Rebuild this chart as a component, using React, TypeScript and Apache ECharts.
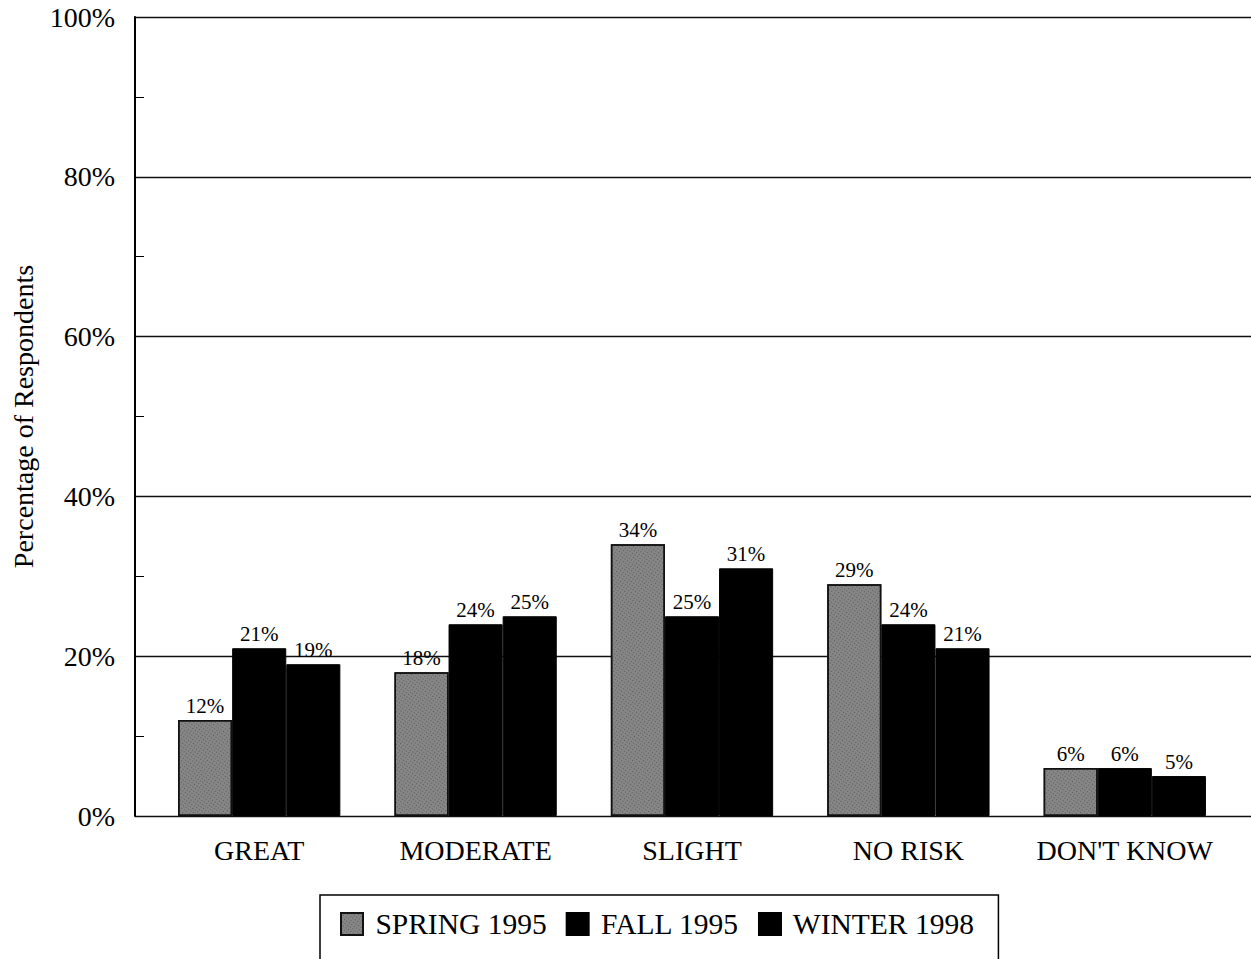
import React, { useEffect, useRef } from "react";
import * as echarts from "echarts";

const categories = ["GREAT", "MODERATE", "SLIGHT", "NO RISK", "DON'T KNOW"];
const spring1995 = [12, 18, 34, 29, 6];
const fall1995 = [21, 24, 25, 24, 6];
const winter1998 = [19, 25, 31, 21, 5];
const seriesNames = ["SPRING 1995", "FALL 1995", "WINTER 1998"];

const FONT = "'Liberation Serif', 'Times New Roman', serif";

export default function App() {
  const ref = useRef<HTMLDivElement>(null);
  useEffect(() => {
    if (!ref.current) return;
    const chart = echarts.init(ref.current, undefined, { renderer: "svg" });
    const label = {
      show: true,
      position: "top",
      distance: 4,
      formatter: "{c}%",
      fontFamily: FONT,
      fontSize: 21,
      color: "#000",
    };
    chart.setOption({
      animation: false,
      backgroundColor: "#fff",
      textStyle: { fontFamily: FONT },
      grid: [
        { left: 135, right: -20, top: 17, bottom: 143 },
        { left: 151, width: 1082, top: 17, bottom: 143 },
      ],
      xAxis: [
        { type: "value", gridIndex: 0, show: false, min: 0, max: 1 },
        {
          type: "category",
          gridIndex: 1,
          data: categories,
          axisLine: { show: false },
          axisTick: { show: false },
          axisLabel: { interval: 0, fontFamily: FONT, fontSize: 28, color: "#000", margin: 20 },
        },
      ],
      yAxis: [
        {
          type: "value",
          gridIndex: 0,
          min: 0,
          max: 100,
          interval: 20,
          name: "Percentage of Respondents",
          nameLocation: "middle",
          nameRotate: 90,
          nameGap: 98,
          nameTextStyle: { fontFamily: FONT, fontSize: 28, color: "#000" },
          axisLine: { show: true, lineStyle: { color: "#000", width: 2 } },
          axisTick: { show: false, inside: true },
          minorTick: { show: true, splitNumber: 2, length: 9, lineStyle: { color: "#000", width: 1 } },
          splitLine: { show: true, lineStyle: { color: "#111", width: 1.3 } },
          axisLabel: { formatter: "{value}%", fontFamily: FONT, fontSize: 28, color: "#000", margin: 20 },
        },
        { type: "value", gridIndex: 1, min: 0, max: 100, show: false },
      ],
      legend: {
        left: 320,
        top: 895,
        data: seriesNames,
        orient: "horizontal",
        icon: "rect",
        formatter: " {name}",
        borderColor: "#000",
        borderWidth: 1.5,
        padding: [14, 24, 30, 20],
        itemWidth: 22,
        itemHeight: 22,
        itemGap: 19,
        textStyle: { fontFamily: FONT, fontSize: 29.5, color: "#000" },
      },
      series: [
        {
          name: seriesNames[0],
          type: "bar",
          xAxisIndex: 1,
          yAxisIndex: 1,
          data: spring1995,
          barGap: "0%",
          barCategoryGap: "25%",
          itemStyle: {
            color: "#868686",
            borderColor: "#111",
            borderWidth: 1.5,
            decal: {
              symbol: "rect",
              symbolSize: 1,
              color: "rgba(30,30,30,0.45)",
              dashArrayX: [1, 2],
              dashArrayY: [1, 2],
              rotation: 0.6,
            },
          },
          label,
        },
        {
          name: seriesNames[1],
          type: "bar",
          xAxisIndex: 1,
          yAxisIndex: 1,
          data: fall1995,
          barGap: "0%",
          barCategoryGap: "25%",
          itemStyle: { color: "#000", borderColor: "#000", borderWidth: 1 },
          label,
        },
        {
          name: seriesNames[2],
          type: "bar",
          xAxisIndex: 1,
          yAxisIndex: 1,
          data: winter1998,
          barGap: "0%",
          barCategoryGap: "25%",
          itemStyle: { color: "#000", borderColor: "#000", borderWidth: 1 },
          label,
        },
      ],
    });
    return () => chart.dispose();
  }, []);
  return (
    <div
      ref={ref}
      style={{ position: "fixed", left: 0, top: 0, width: 1251, height: 959, background: "#fff" }}
    />
  );
}
